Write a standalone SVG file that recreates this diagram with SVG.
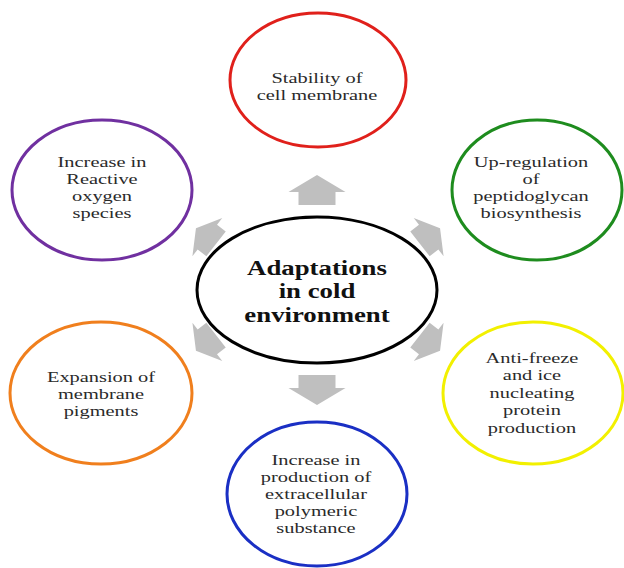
<svg xmlns="http://www.w3.org/2000/svg" width="624" height="568" viewBox="0 0 624 568">
<style>
.node{fill:#fff;stroke-width:3}
.lbl{font-family:"Liberation Serif","Times New Roman",serif;font-size:15px;fill:#2a2a2a;text-anchor:middle}
.ctr{font-family:"Liberation Serif","Times New Roman",serif;font-size:20px;font-weight:bold;fill:#111;text-anchor:middle}
.arr{fill:#bfbfbf}
</style>
<defs>
<path id="arrowUp" d="M0,-15 L28.5,2 L18.5,2 L18.5,15 L-18.5,15 L-18.5,2 L-28.5,2 Z"/>
</defs>
<rect width="624" height="568" fill="#fff"/>
<g id="connectors" class="arr">
<use href="#arrowUp" transform="translate(317 190)"/>
<use href="#arrowUp" transform="translate(317 390) rotate(180)"/>
<use href="#arrowUp" transform="translate(206 236) rotate(-52) scale(0.85)"/>
<use href="#arrowUp" transform="translate(430 236) rotate(52) scale(0.85)"/>
<use href="#arrowUp" transform="translate(206 343) rotate(-128) scale(0.85)"/>
<use href="#arrowUp" transform="translate(430 343) rotate(128) scale(0.85)"/>
</g>
<g id="center">
<ellipse cx="317" cy="290" rx="120" ry="73" class="node" stroke="#000"/>
<g transform="translate(317 0) scale(1.34 1)">
<text class="ctr" x="0" y="275">Adaptations</text>
<text class="ctr" x="0" y="298">in cold</text>
<text class="ctr" x="0" y="322">environment</text>
</g>
</g>
<g id="node-stability">
<ellipse cx="318" cy="80" rx="88" ry="67" class="node" stroke="#e0201b"/>
<g transform="translate(317 0) scale(1.36 1)">
<text class="lbl" x="0" y="83">Stability of</text>
<text class="lbl" x="0" y="100">cell membrane</text>
</g>
</g>
<g id="node-ros">
<ellipse cx="102" cy="190" rx="90" ry="70" class="node" stroke="#7030a0"/>
<g transform="translate(102 0) scale(1.36 1)">
<text class="lbl" x="0" y="167">Increase in</text>
<text class="lbl" x="0" y="184">Reactive</text>
<text class="lbl" x="0" y="201">oxygen</text>
<text class="lbl" x="0" y="218">species</text>
</g>
</g>
<g id="node-peptidoglycan">
<ellipse cx="537" cy="190" rx="85" ry="70" class="node" stroke="#1e8c1e"/>
<g transform="translate(531 0) scale(1.36 1)">
<text class="lbl" x="0" y="167">Up-regulation</text>
<text class="lbl" x="0" y="184">of</text>
<text class="lbl" x="0" y="201">peptidoglycan</text>
<text class="lbl" x="0" y="218">biosynthesis</text>
</g>
</g>
<g id="node-pigments">
<ellipse cx="101" cy="393" rx="91" ry="71" class="node" stroke="#f07f1d"/>
<g transform="translate(101 0) scale(1.36 1)">
<text class="lbl" x="0" y="382">Expansion of</text>
<text class="lbl" x="0" y="399">membrane</text>
<text class="lbl" x="0" y="416">pigments</text>
</g>
</g>
<g id="node-antifreeze">
<ellipse cx="533" cy="393" rx="90" ry="71" class="node" stroke="#f2f000"/>
<g transform="translate(532 0) scale(1.36 1)">
<text class="lbl" x="0" y="363">Anti-freeze</text>
<text class="lbl" x="0" y="380.5">and ice</text>
<text class="lbl" x="0" y="398">nucleating</text>
<text class="lbl" x="0" y="415.5">protein</text>
<text class="lbl" x="0" y="433">production</text>
</g>
</g>
<g id="node-eps">
<ellipse cx="317" cy="494" rx="90" ry="72" class="node" stroke="#1a2fc4"/>
<g transform="translate(316 0) scale(1.36 1)">
<text class="lbl" x="0" y="465">Increase in</text>
<text class="lbl" x="0" y="482">production of</text>
<text class="lbl" x="0" y="499">extracellular</text>
<text class="lbl" x="0" y="516">polymeric</text>
<text class="lbl" x="0" y="533">substance</text>
</g>
</g>
</svg>
